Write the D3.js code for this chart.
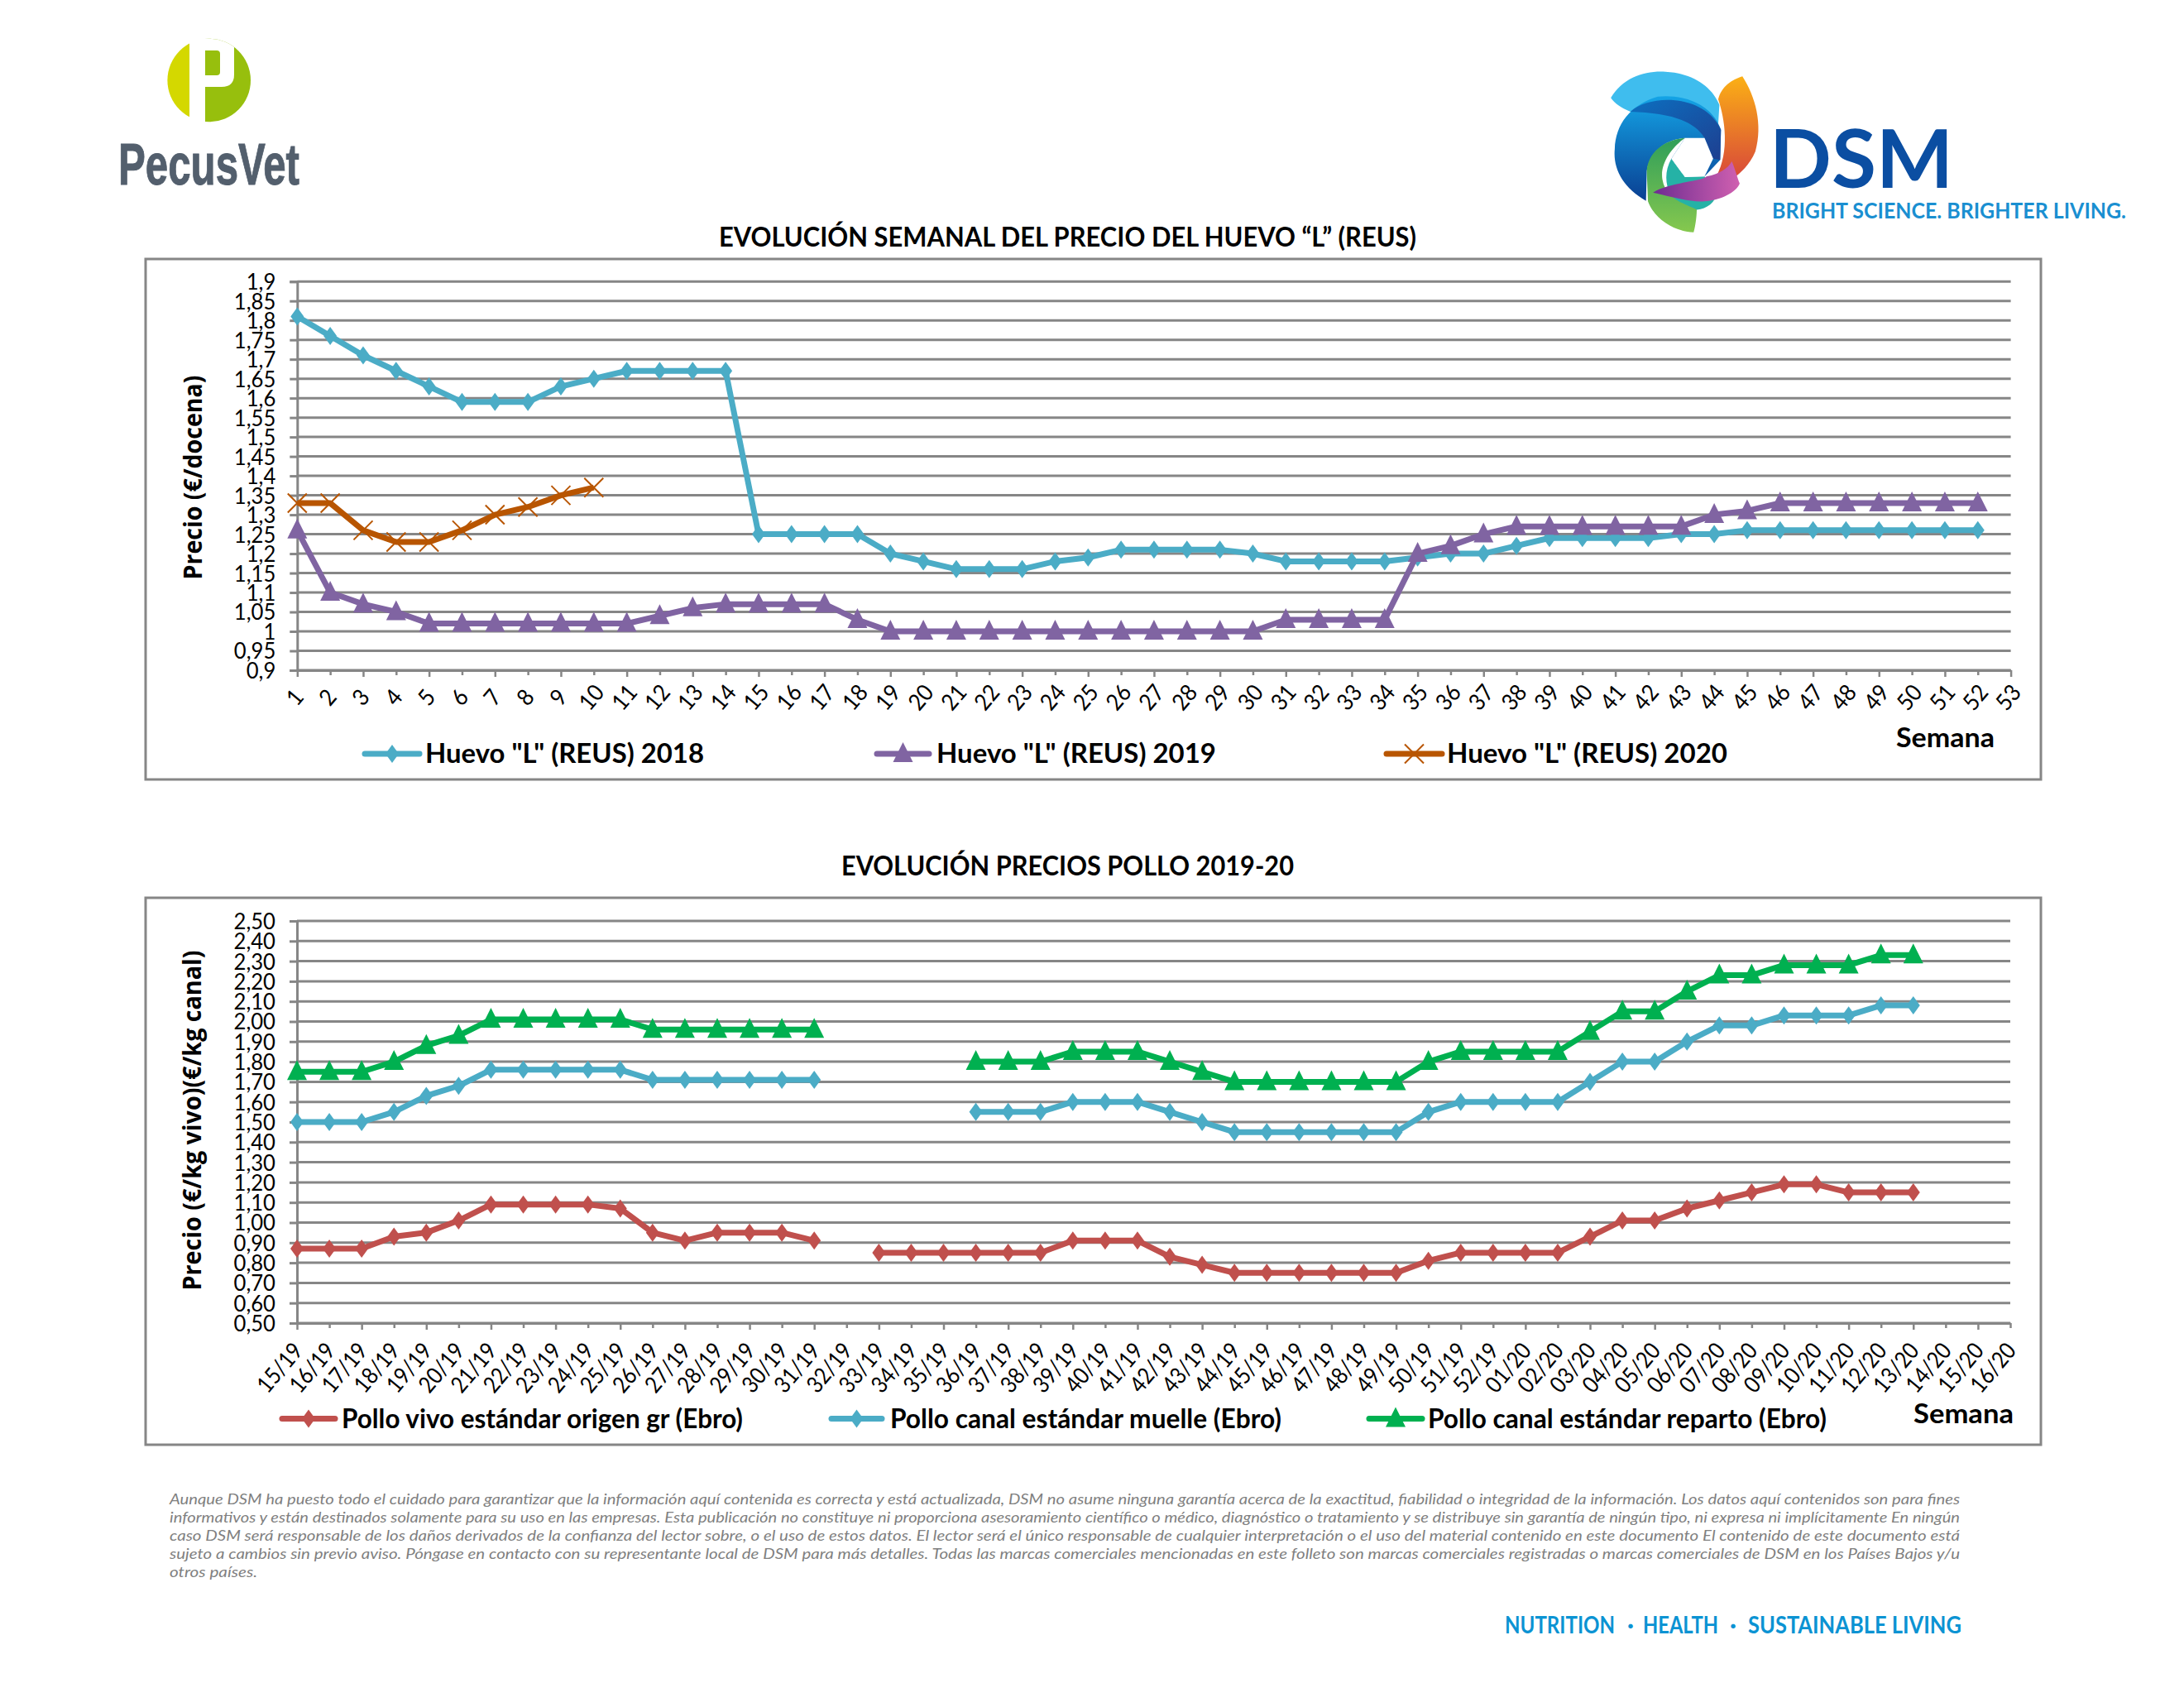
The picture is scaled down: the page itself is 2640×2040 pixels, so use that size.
<!DOCTYPE html>
<html lang="es"><head><meta charset="utf-8">
<style>html,body{margin:0;padding:0;background:#fff}svg{display:block}text{font-family:Lato,"Noto Sans",sans-serif}</style>
<script src="https://cdnjs.cloudflare.com/ajax/libs/d3/7.8.5/d3.min.js"></script>
</head><body><svg id="c" width="2640" height="2040" xmlns="http://www.w3.org/2000/svg"></svg>
<script>
// ---------- data ----------
const eggWeeks = d3.range(1, 54).map(String);
const eggTicks = [1.9,1.85,1.8,1.75,1.7,1.65,1.6,1.55,1.5,1.45,1.4,1.35,1.3,1.25,1.2,1.15,1.1,1.05,1,0.95,0.9];
const egg2018 = [1.81,1.76,1.71,1.67,1.63,1.59,1.59,1.59,1.63,1.65,1.67,1.67,1.67,1.67,1.25,1.25,1.25,1.25,1.20,1.18,1.16,1.16,1.16,1.18,1.19,1.21,1.21,1.21,1.21,1.20,1.18,1.18,1.18,1.18,1.19,1.20,1.20,1.22,1.24,1.24,1.24,1.24,1.25,1.25,1.26,1.26,1.26,1.26,1.26,1.26,1.26,1.26];
const egg2019 = [1.26,1.10,1.07,1.05,1.02,1.02,1.02,1.02,1.02,1.02,1.02,1.04,1.06,1.07,1.07,1.07,1.07,1.03,1.00,1.00,1.00,1.00,1.00,1.00,1.00,1.00,1.00,1.00,1.00,1.00,1.03,1.03,1.03,1.03,1.20,1.22,1.25,1.27,1.27,1.27,1.27,1.27,1.27,1.30,1.31,1.33,1.33,1.33,1.33,1.33,1.33,1.33];
const egg2020 = [1.33,1.33,1.26,1.23,1.23,1.26,1.30,1.32,1.35,1.37];

const chickenWeeks = ["15/19","16/19","17/19","18/19","19/19","20/19","21/19","22/19","23/19","24/19","25/19","26/19","27/19","28/19","29/19","30/19","31/19","32/19","33/19","34/19","35/19","36/19","37/19","38/19","39/19","40/19","41/19","42/19","43/19","44/19","45/19","46/19","47/19","48/19","49/19","50/19","51/19","52/19","01/20","02/20","03/20","04/20","05/20","06/20","07/20","08/20","09/20","10/20","11/20","12/20","13/20","14/20","15/20","16/20"];
const chickenTicks = [2.5,2.4,2.3,2.2,2.1,2.0,1.9,1.8,1.7,1.6,1.5,1.4,1.3,1.2,1.1,1.0,0.9,0.8,0.7,0.6,0.5];
const polloVivo = [.87,.87,.87,.93,.95,1.01,1.09,1.09,1.09,1.09,1.07,.95,.91,.95,.95,.95,.91,null,.85,.85,.85,.85,.85,.85,.91,.91,.91,.83,.79,.75,.75,.75,.75,.75,.75,.81,.85,.85,.85,.85,.93,1.01,1.01,1.07,1.11,1.15,1.19,1.19,1.15,1.15,1.15];
const polloMuelle = [1.50,1.50,1.50,1.55,1.63,1.68,1.76,1.76,1.76,1.76,1.76,1.71,1.71,1.71,1.71,1.71,1.71,null,null,null,null,1.55,1.55,1.55,1.60,1.60,1.60,1.55,1.50,1.45,1.45,1.45,1.45,1.45,1.45,1.55,1.60,1.60,1.60,1.60,1.70,1.80,1.80,1.90,1.98,1.98,2.03,2.03,2.03,2.08,2.08];
const polloReparto = [1.75,1.75,1.75,1.80,1.88,1.93,2.01,2.01,2.01,2.01,2.01,1.96,1.96,1.96,1.96,1.96,1.96,null,null,null,null,1.80,1.80,1.80,1.85,1.85,1.85,1.80,1.75,1.70,1.70,1.70,1.70,1.70,1.70,1.80,1.85,1.85,1.85,1.85,1.95,2.05,2.05,2.15,2.23,2.23,2.28,2.28,2.28,2.33,2.33];

const disclaimer = [
"Aunque DSM ha puesto todo el cuidado para garantizar que la información aquí contenida es correcta y está actualizada, DSM no asume ninguna garantía acerca de la exactitud, fiabilidad o integridad de la información. Los datos aquí contenidos son para fines",
"informativos y están destinados solamente para su uso en las empresas. Esta publicación no constituye ni proporciona asesoramiento científico o médico, diagnóstico o tratamiento y se distribuye sin garantía de ningún tipo, ni expresa ni implícitamente En ningún",
"caso DSM será responsable de los daños derivados de la confianza del lector sobre, o el uso de estos datos. El lector será el único responsable de cualquier interpretación o el uso del material contenido en este documento El contenido de este documento está",
"sujeto a cambios sin previo aviso. Póngase en contacto con su representante local de DSM para más detalles. Todas las marcas comerciales mencionadas en este folleto son marcas comerciales registradas o marcas comerciales de DSM en los Países Bajos y/u",
"otros países."];

// ---------- helpers ----------
const GREY = "#868686", INK = "#000";
const svg = d3.select("#c");
const sym = {
  diamond: (g, x, y, c) => g.append("path").attr("d", "M0,-11L8,0L0,11L-8,0Z").attr("transform", `translate(${x},${y})`).attr("fill", c),
  triangle: (g, x, y, c) => g.append("path").attr("d", "M0,-14L12,10L-12,10Z").attr("transform", `translate(${x},${y})`).attr("fill", c),
  cross: (g, x, y, c) => g.append("path").attr("d", "M-11.5,-11.5L11.5,11.5M-11.5,11.5L11.5,-11.5").attr("transform", `translate(${x},${y})`).attr("stroke", c).attr("stroke-width", 2).attr("fill", "none")
};
function label(x, y, s, size, w, opt = {}) {
  const t = svg.append("text").attr("x", x).attr("y", y).attr("font-size", size)
    .attr("font-weight", opt.weight || 700).attr("fill", opt.fill || INK).text(s);
  if (opt.italic) t.attr("font-style", "italic");
  if (opt.family) t.style("font-family", opt.family);
  if (opt.anchor) t.attr("text-anchor", opt.anchor);
  if (opt.transform) t.attr("transform", opt.transform);
  if (opt.stroke) t.attr("stroke", opt.fill).attr("stroke-width", opt.stroke);
  if (w) t.attr("textLength", w).attr("lengthAdjust", "spacingAndGlyphs");
  return t;
}
function squeeze(sel, k) {
  sel.each(function () {
    const w = this.getComputedTextLength();
    d3.select(this).attr("textLength", w * k).attr("lengthAdjust", "spacingAndGlyphs");
  });
}
function panel(cfg) {
  svg.append("rect").attr("x", cfg.box[0]).attr("y", cfg.box[1]).attr("width", cfg.box[2] - cfg.box[0]).attr("height", cfg.box[3] - cfg.box[1])
    .attr("fill", "#fff").attr("stroke", GREY).attr("stroke-width", 3);
  const x = d3.scalePoint().domain(cfg.cats).range([cfg.x0, cfg.x1]);
  const y = d3.scaleLinear().domain(cfg.domain).range([cfg.y0, cfg.y1]);
  const g = svg.append("g");
  g.append("g").attr("transform", `translate(${cfg.x0},0)`)
    .call(d3.axisLeft(y).tickValues(cfg.ticks).tickSize(9).tickPadding(17).tickFormat(cfg.fmt))
    .call(a => { a.select(".domain").attr("stroke", GREY).attr("stroke-width", 3);
      a.selectAll(".tick line").attr("stroke", GREY).attr("stroke-width", 3);
      a.selectAll("text").attr("font-size", 27).attr("font-weight", 400).attr("fill", INK).style("font-family", "Lato").attr("dy", "0.35em");
      squeeze(a.selectAll("text"), 0.95); });
  g.append("g").selectAll("line").data(cfg.ticks).join("line")
    .attr("x1", cfg.x0).attr("x2", cfg.x1).attr("y1", d => y(d)).attr("y2", d => y(d))
    .attr("stroke", GREY).attr("stroke-width", 3);
  g.append("g").attr("transform", `translate(0,${cfg.y0})`)
    .call(d3.axisBottom(x).tickSize(8).tickSizeOuter(0).tickPadding(0))
    .call(a => { a.select(".domain").attr("stroke", GREY).attr("stroke-width", 3);
      a.selectAll(".tick line").attr("stroke", GREY).attr("stroke-width", 2.5).attr("y2", (d, i) => i % 2 ? 6 : 8);
      a.selectAll("text").attr("font-size", 28).attr("font-weight", 400).attr("fill", INK).style("font-family", "Lato")
        .attr("text-anchor", cfg.xAnchor).attr("y", 0).attr("dy", 0)
        .attr("transform", `translate(${cfg.xDx},${cfg.xDy}) rotate(-50)`);
      squeeze(a.selectAll("text"), cfg.xSqueeze); });
  const line = d3.line().defined(d => d.v != null).x(d => x(d.c)).y(d => y(d.v));
  cfg.series.forEach(s => {
    const pts = s.values.map((v, i) => ({ c: cfg.cats[i], v }));
    const sg = svg.append("g");
    sg.append("path").datum(pts).attr("d", line).attr("fill", "none").attr("stroke", s.color).attr("stroke-width", 7).attr("stroke-linejoin", "round");
    pts.filter(d => d.v != null).forEach(d => sym[s.marker](sg, x(d.c), y(d.v), s.color));
  });
  cfg.series.forEach(s => {
    const [a, b, tx, tw] = s.leg, ly = cfg.legY, lg = svg.append("g");
    lg.append("line").attr("x1", a).attr("x2", b).attr("y1", ly).attr("y2", ly).attr("stroke", s.color).attr("stroke-width", 7).attr("stroke-linecap", "round");
    sym[s.marker](lg, (a + b) / 2, ly, s.color);
    label(tx, ly + 11, s.name, 33, tw);
  });
  label(cfg.sem[0], cfg.sem[1], "Semana", 33, cfg.sem[2]);
  label(cfg.title[0], cfg.title[1], cfg.title[2], 32, cfg.title[3]);
  label(0, 0, cfg.yTitle[0], 30, cfg.yTitle[3], { anchor: "middle", transform: `translate(${cfg.yTitle[1]},${cfg.yTitle[2]}) rotate(-90)`, family: "'Open Sans'" });
}

// ---------- panels ----------
panel({
  box: [176, 313, 2467, 942], cats: eggWeeks, domain: [0.9, 1.9], x0: 359.3, x1: 2430.6, y0: 810, y1: 340.2,
  ticks: eggTicks, fmt: d => String(d).replace(".", ","), xAnchor: "middle", xDx: 4, xDy: 39, xSqueeze: 0.92,
  series: [
    { name: 'Huevo "L" (REUS) 2018', values: egg2018, color: "#4BACC6", marker: "diamond", leg: [441, 507, 514, 337] },
    { name: 'Huevo "L" (REUS) 2019', values: egg2019, color: "#8064A2", marker: "triangle", leg: [1060, 1123, 1132, 338] },
    { name: 'Huevo "L" (REUS) 2020', values: egg2020, color: "#B85500", marker: "cross", leg: [1676, 1743, 1749, 339] }
  ],
  legY: 911, sem: [2292, 903, 119],
  title: [869, 298, "EVOLUCIÓN SEMANAL DEL PRECIO DEL HUEVO “L” (REUS)", 843],
  yTitle: ["Precio (€/docena)", 244, 577, 247]
});
panel({
  box: [176, 1085, 2467, 1746], cats: chickenWeeks, domain: [0.5, 2.5], x0: 359, x1: 2430, y0: 1599, y1: 1113,
  ticks: chickenTicks, fmt: d => d3.format(".2f")(d).replace(".", ","), xAnchor: "end", xDx: 8, xDy: 34, xSqueeze: 0.88,
  series: [
    { name: "Pollo vivo estándar origen gr (Ebro)", values: polloVivo, color: "#C0504D", marker: "diamond", leg: [341, 405, 413, 485] },
    { name: "Pollo canal estándar muelle (Ebro)", values: polloMuelle, color: "#4BACC6", marker: "diamond", leg: [1005, 1066, 1076, 473] },
    { name: "Pollo canal estándar reparto (Ebro)", values: polloReparto, color: "#00B050", marker: "triangle", leg: [1655, 1719, 1726, 482] }
  ],
  legY: 1714.5, sem: [2313, 1720, 121],
  title: [1017, 1058, "EVOLUCIÓN PRECIOS POLLO 2019-20", 547],
  yTitle: ["Precio (€/kg vivo)(€/kg canal)", 243, 1354, 411]
});

// ---------- footer ----------
disclaimer.forEach((s, i) => label(205, 1818 + i * 22, s, 18, i < 4 ? 2164 : 106, { weight: 400, italic: true, fill: "#808080" }));
const tagline = "#0B93D3";
label(1819, 1974, "NUTRITION", 29, 133, { fill: tagline });
label(1971, 1974, "·", 29, 0, { fill: tagline, anchor: "middle" });
label(1986, 1974, "HEALTH", 29, 91, { fill: tagline });
label(2095, 1974, "·", 29, 0, { fill: tagline, anchor: "middle" });
label(2113, 1974, "SUSTAINABLE LIVING", 29, 258, { fill: tagline });

// ---------- PecusVet logo ----------
const defs = svg.append("defs");
defs.append("clipPath").attr("id", "pv").append("circle").attr("cx", 252.7).attr("cy", 97).attr("r", 50.3);
const pv = svg.append("g").attr("clip-path", "url(#pv)");
pv.append("rect").attr("x", 200).attr("y", 40).attr("width", 29).attr("height", 115).attr("fill", "#D4D800");
pv.append("rect").attr("x", 248).attr("y", 40).attr("width", 60).attr("height", 115).attr("fill", "#97BF0D");
pv.append("path").attr("d", "M248,40H283V90Q283,105 268,105H248Z").attr("fill", "#fff");
pv.append("path").attr("d", "M248,61H262Q266,61 266,65V87Q266,91 262,91H248Z").attr("fill", "#97BF0D");
label(143, 222.5, "PecusVet", 70, 219, { fill: "#535F6D", family: "'Liberation Sans'", stroke: 1 });

// ---------- DSM logo ----------
function grad(id, a, b, x2 = 0, y2 = 1) {
  const g = defs.append("linearGradient").attr("id", id).attr("x1", 0).attr("y1", 0).attr("x2", x2).attr("y2", y2);
  g.append("stop").attr("offset", 0).attr("stop-color", a);
  g.append("stop").attr("offset", 1).attr("stop-color", b);
}
grad("gB", "#14A4E6", "#0A3F92"); grad("gO", "#FBB015", "#D8483A"); grad("gP", "#6D2C91", "#D060B0", 1, 0);
grad("gD", "#0C6FC0", "#1E3F90", 1, 1); grad("gG", "#2F9E5A", "#86C84E");
const dsm = svg.append("g").attr("transform", "translate(1900,50) scale(0.4719,0.3333)");
[["M100,205C130,130 190,105 240,110C310,115 360,165 378,230L375,300L150,255C125,240 110,225 100,205Z", "#3FBDEE"],
 ["M437,127C470,200 490,300 470,400C455,450 430,480 415,495L370,490C405,400 392,280 375,210C385,160 410,140 437,127Z", "url(#gO)"],
 ["M190,578C130,530 105,460 110,390C112,300 150,230 220,200C290,190 360,230 382,320L380,430L340,490L290,490L255,425L290,350C240,355 200,400 192,470Z", "url(#gB)"],
 ["M150,255C200,190 340,190 382,320L380,430L362,425L340,350C310,280 240,260 150,255Z", "url(#gD)"],
 ["M255,425L290,492L340,490L370,560C360,600 330,615 300,610C250,590 225,500 255,425Z", "#25B2A6"],
 ["M192,470C195,400 240,355 290,350C260,380 225,440 232,500C240,570 290,590 320,610C320,640 315,680 312,692C260,690 210,640 195,580Z", "url(#gG)"],
 ["M208,548C250,510 330,510 345,490C380,480 400,460 410,435C420,470 425,500 430,515C420,550 380,575 340,580C300,585 250,560 208,548Z", "url(#gP)"],
 ["M290,350L340,350L362,425L340,490L290,492L255,425Z", "#fff"]
].forEach(([d, f]) => dsm.append("path").attr("d", d).attr("fill", f));
label(2139, 227, "DSM", 98, 222, { fill: "#0B4EA2" });
label(2142, 264, "BRIGHT SCIENCE. BRIGHTER LIVING.", 27, 428, { fill: "#1A8FD1" });
</script></body></html>
